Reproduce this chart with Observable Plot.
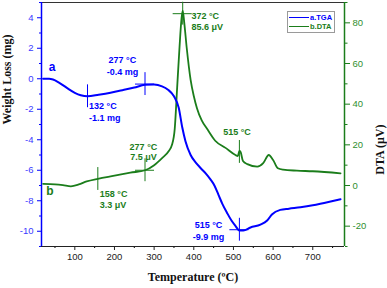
<!DOCTYPE html>
<html><head><meta charset="utf-8">
<script src="https://cdn.jsdelivr.net/npm/d3@7"></script>
<script src="https://cdn.jsdelivr.net/npm/@observablehq/plot@0.6"></script>
<style>
body{margin:0;background:#fff;}
#wrap{position:relative;width:387px;height:288px;}
#legend{position:absolute;left:287px;top:11px;width:46px;height:20px;border:1px solid #9a9a9a;background:#fff;font:bold 7.5px "Liberation Sans",Arial,sans-serif;}
#legend .row{position:absolute;left:1px;height:9px;display:flex;align-items:center;}
#legend .ln{width:20px;height:0;border-top:1.5px solid;margin-right:1px;}
</style></head>
<body><div id="wrap"><div id="legend"></div></div>
<script>
// ---- data ----
const tgaT  = [20,35,45,60,80,100,115,132,160,190,220,250,277,300,320,335,350,362,371,379,392,405,417,430,442,452,462,472,484,495,505,515,525,543,568,585,597,618,640,669,700,719,745,770];
const tgaMg = [0,0,-0.05,-0.25,-0.6,-0.92,-1.08,-1.15,-1.05,-0.92,-0.75,-0.58,-0.4,-0.38,-0.5,-0.72,-1.15,-1.9,-3.2,-4.1,-5.0,-5.5,-5.85,-6.2,-6.6,-7.0,-7.6,-8.2,-8.8,-9.3,-9.65,-9.95,-9.95,-9.75,-9.57,-9.3,-8.9,-8.6,-8.52,-8.43,-8.3,-8.2,-8.05,-7.9];
const dtaT  = [20,50,70,90,110,130,158,200,240,277,300,320,337,345,352,358,364,369,372,376,382,392,400,408,420,433,454,480,505,511,515,518,524,535,560,575,589,600,612,625,660,700,770];
const dtaUV = [0.8,0.6,0.2,-0.4,0.5,2.0,3.3,4.8,6.3,7.5,10,13.5,17,20,28,48,68,82,86,80,68,52,44,38,32,28,22,18.5,15,14.5,17,16.5,12,10.5,9.3,11,15,12.5,8.5,7.8,7.3,7,6];
const xMajor = [100,200,300,400,500,600,700];
const xMinor = [50,150,250,350,450,550,650,750];
const leftMajor = [-10,-8,-6,-4,-2,0,2,4];
const leftMinor = [-11,-9,-7,-5,-3,-1,1,3,5];
const rightMajor = [-20,0,20,40,60,80];
const rightMinor = [-30,-10,10,30,50,70,90];
const tgaCross = [{T:132,y:-1.15,h:false},{T:277,y:-0.35,h:true},{T:515,y:-9.9,h:true}];
const dtaCross = [{T:158,v:3.2,h:false},{T:277,v:7.5,h:true},{T:372,v:84.5,h:true},{T:515,v:16.5,h:false}];
const tgaNotes = [
  {T:220,y:0.87,text:"277 °C\n-0.4 mg",anchor:"middle"},
  {T:136,y:-2.15,text:"132 °C\n-1.1 mg",anchor:"start"},
  {T:437,y:-9.95,text:"515 °C\n-9.9 mg",anchor:"middle"}
];
const dtaNotes = [
  {T:163,v:-6.7,text:"158 °C\n3.3 μV",anchor:"start"},
  {T:273,v:16.7,text:"277 °C\n7.5 μV",anchor:"middle"},
  {T:394,v:81,text:"372 °C\n85.6 μV",anchor:"start"},
  {T:509,v:26.6,text:"515 °C",anchor:"middle"}
];
const curveLabels = [{T:43,y:0.74,text:"a",c:"tga"},{T:37,y:-7.36,text:"b",c:"dta"}];
const legendItems = ["a.TGA","b.DTA"];

// ---- scales ----
const yDom = [-11,5], rDom = [-30,90];
const toLeft = v => yDom[0] + (v - rDom[0]) * (yDom[1]-yDom[0]) / (rDom[1]-rDom[0]);
const fromLeft = y => rDom[0] + (y - yDom[0]) * (rDom[1]-rDom[0]) / (yDom[1]-yDom[0]);

const BLUE = "#0000ff", BLUET = "#3a3aff", GREEN = "#1b7d1b", GREENT = "#2f8f2f";
const SANS = "Liberation Sans, Arial, sans-serif", SERIF = "Liberation Serif, Times New Roman, serif";

const tga = tgaT.map((T,i) => ({T, y: tgaMg[i]}));
const dta = dtaT.map((T,i) => ({T, y: toLeft(dtaUV[i])}));
const dtaC = dtaCross.map(d => ({...d, y: toLeft(d.v)}));
const dtaN = dtaNotes.map(d => ({...d, y: toLeft(d.v)}));
const half = 0.75, hw = 24;

function notes(data, fill, lh) {
  return ["start", "middle"].map(a => Plot.text(data.filter(d => d.anchor === a),
    {x: "T", y: "y", text: "text", textAnchor: a, fill, fontWeight: "bold", fontSize: 9, lineHeight: lh}));
}

const chart = Plot.plot({
  width: 387, height: 288,
  marginLeft: 41, marginRight: 43, marginTop: 2, marginBottom: 42,
  x: {domain: [16, 780]},
  y: {domain: yDom},
  style: {fontFamily: SANS, background: "#fff"},
  marks: [
    // axes
    Plot.axisX({ticks: xMajor, tickSize: 4, tickPadding: 3, fontSize: 9.5, color: "#222", label: null, tickFormat: d => String(d)}),
    Plot.axisX({ticks: xMinor, tickSize: 2, label: null, tickFormat: () => ""}),
    Plot.axisY({ticks: leftMajor, tickSize: 4, tickPadding: 4, fontSize: 9.5, stroke: BLUE, fill: BLUET, label: null, tickFormat: d => String(d)}),
    Plot.axisY({ticks: leftMinor, tickSize: 2, stroke: BLUE, label: null, tickFormat: () => ""}),
    Plot.axisY({anchor: "right", ticks: rightMajor.map(toLeft), tickSize: 5, tickPadding: 3, fontSize: 9.5, stroke: GREEN, fill: GREENT, label: null, tickFormat: d => String(Math.round(fromLeft(d)))}),
    Plot.axisY({anchor: "right", ticks: rightMinor.map(toLeft), tickSize: 2.5, stroke: GREEN, label: null, tickFormat: () => ""}),
    Plot.ruleY([yDom[0]], {stroke: "#222", strokeWidth: 1}),
    Plot.ruleY([yDom[1]], {stroke: "#333", strokeWidth: 1}),
    Plot.ruleX([16], {stroke: BLUE, strokeWidth: 1.5}),
    Plot.ruleX([780], {stroke: GREEN, strokeWidth: 1.5}),
    // axis titles
    Plot.text(["Temperature (ºC)"], {frameAnchor: "bottom", dy: 34, fontFamily: SERIF, fontWeight: "bold", fontSize: 12, fill: "#111"}),
    Plot.text(["Weight Loss (mg)"], {frameAnchor: "left", dx: -34, rotate: -90, fontFamily: SERIF, fontWeight: "bold", fontSize: 12, fill: "#111"}),
    Plot.text(["DTA (μV)"], {frameAnchor: "right", dx: 36, rotate: -90, fontFamily: SERIF, fontWeight: "bold", fontSize: 12, fill: "#111"}),
    // curves
    Plot.line(dta, {x: "T", y: "y", stroke: GREEN, strokeWidth: 1.8, curve: "monotone-x"}),
    Plot.line(tga, {x: "T", y: "y", stroke: BLUE, strokeWidth: 2, curve: "monotone-x"}),
    // cross markers
    Plot.ruleX(tgaCross, {x: "T", y1: d => d.y - half, y2: d => d.y + half, stroke: BLUE, strokeWidth: 1}),
    Plot.ruleY(tgaCross.filter(d => d.h), {y: "y", x1: d => d.T - hw, x2: d => d.T + hw, stroke: BLUE, strokeWidth: 1}),
    Plot.ruleX(dtaC, {x: "T", y1: d => d.y - half, y2: d => d.y + half, stroke: GREEN, strokeWidth: 1}),
    Plot.ruleY(dtaC.filter(d => d.h), {y: "y", x1: d => d.T - hw, x2: d => d.T + hw, stroke: GREEN, strokeWidth: 1}),
    // annotations
    ...notes(tgaNotes, BLUE, 1.3),
    ...notes(dtaN, GREEN, 1.2),
    Plot.text(curveLabels, {x: "T", y: "y", text: "text", fill: d => d.c === "tga" ? BLUE : GREEN, fontWeight: "bold", fontSize: 12})
  ]
});
document.getElementById("wrap").prepend(chart);

const lg = document.getElementById("legend");
legendItems.forEach((t, i) => {
  const row = document.createElement("div");
  row.className = "row";
  row.style.top = (i === 0 ? 1 : 10) + "px";
  const c = i === 0 ? BLUE : GREEN;
  row.innerHTML = `<span class="ln" style="border-color:${c}"></span><span style="color:${c}">${t}</span>`;
  lg.appendChild(row);
});
</script>
</body></html>
